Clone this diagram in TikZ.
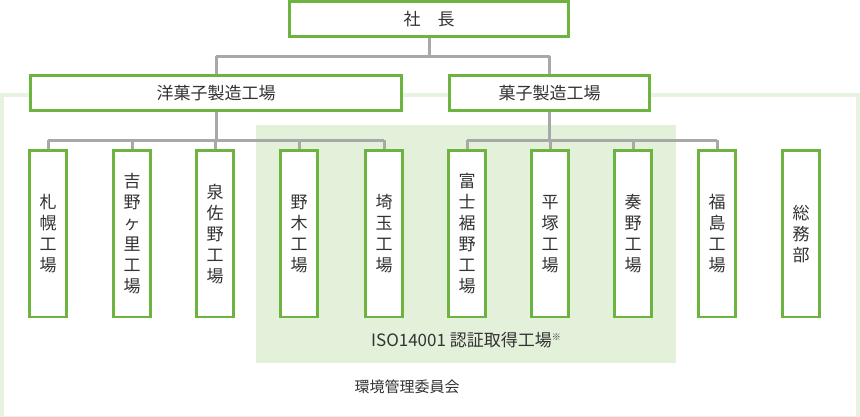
\documentclass[tikz,border=0pt]{standalone}
\usepackage{fontspec}
\setmainfont{Noto Sans CJK JP}
\definecolor{gbox}{HTML}{6DB33F}
\definecolor{gline}{HTML}{A8A8A8}
\definecolor{gfill}{HTML}{E3F0DA}
\definecolor{gframe}{HTML}{E8F2E1}
\definecolor{txt}{HTML}{333333}
\begin{document}
\begin{tikzpicture}[x=1pt,y=-1pt,
  hbox/.style={draw=gbox,line width=1.6pt,fill=white,inner sep=0pt,text=txt,font=\fontsize{17}{20}\selectfont},
  vbox/.style={draw=gbox,line width=1.6pt,fill=white,minimum width=36pt,minimum height=166pt,inner sep=0pt,anchor=north,text=txt,font=\fontsize{17}{21}\selectfont,align=center},
  conn/.style={draw=gline,line width=3pt}]
\useasboundingbox (0,0) rectangle (860,416);
\fill[white] (0,0) rectangle (860,416);
\draw[gframe,line width=4pt] (2,95) rectangle (858,418);
\fill[gfill] (256,125) rectangle (676,363);
\node[hbox,minimum width=278pt,minimum height=34pt] (ceo) at (429,19) {社\hspace{1em}長};
\node[hbox,minimum width=370pt,minimum height=34pt] (yo) at (216,93) {洋菓子製造工場};
\node[hbox,minimum width=199pt,minimum height=34pt] (ka) at (549.5,93) {菓子製造工場};
\foreach \n/\x/\t in {a/48/札\\幌\\工\\場, b/132/吉\\野\\ヶ\\里\\工\\場, c/215/泉\\佐\\野\\工\\場, d/299/野\\木\\工\\場, e/384/埼\\玉\\工\\場, f/467/富\\士\\裾\\野\\工\\場, g/550/平\\塚\\工\\場, h/633/奏\\野\\工\\場, i/717/福\\島\\工\\場, j/801/総\\務\\部}
  \node[vbox] (\n) at (\x,150) {\t};
\coordinate (tb) at (429,56);
\coordinate (lb) at (216,140);
\coordinate (rb) at (549.5,140);
\draw[conn] (ceo.south) -- (tb);
\draw[conn] (yo.north|-tb) -- (ka.north|-tb);
\draw[conn] (yo.north|-tb) -- (yo.north);
\draw[conn] (ka.north|-tb) -- (ka.north);
\draw[conn] (yo.south) -- (lb);
\draw[conn] (a.north|-lb) -- (e.north|-lb);
\foreach \n in {a,b,c,d,e} \draw[conn] (\n.north|-lb) -- (\n.north);
\draw[conn] (ka.south) -- (rb);
\draw[conn] (f.north|-rb) -- (i.north|-rb);
\foreach \n in {f,g,h,i} \draw[conn] (\n.north|-rb) -- (\n.north);
\foreach \n in {ceo,yo,ka,a,b,c,d,e,f,g,h,i,j} \draw[gbox,line width=1.6pt] (\n.north west) rectangle (\n.south east);
\node[text=txt,font=\fontsize{17}{20}\selectfont] (iso) at (466,340) {ISO14001 認証取得工場\raisebox{0.6ex}{\fontsize{9}{9}\selectfont ※}};
\node[text=txt,font=\fontsize{15}{18}\selectfont] (env) at (407,387) {環境管理委員会};
\end{tikzpicture}
\end{document}
